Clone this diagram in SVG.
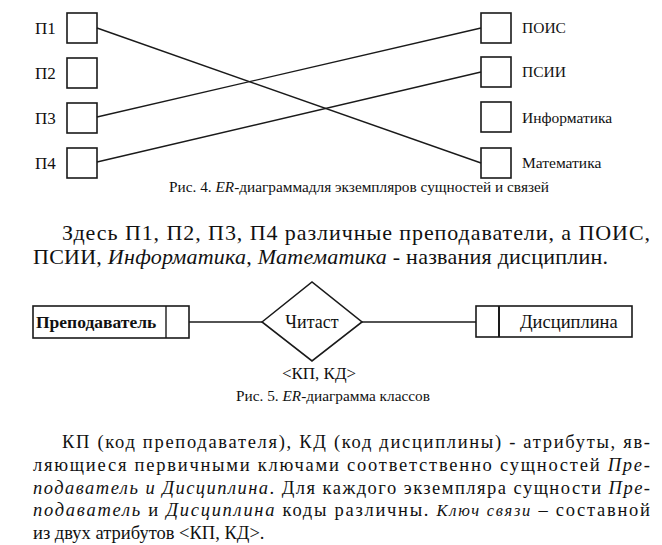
<svg xmlns="http://www.w3.org/2000/svg" width="662" height="545" viewBox="0 0 662 545">
<style>
  .bg{fill:#fff}
  .box{fill:#fff;stroke:#1a1a1a;stroke-width:1.6}
  .ln{fill:none;stroke:#1a1a1a;stroke-width:1.4}
  .t{font-family:"Liberation Serif","Times New Roman",serif;fill:#111}
  .lbl{font-size:17px}
  .rl{font-size:15.5px}
  .cap{font-size:15.3px}
  .p1{font-size:22px}
  .body{font-size:18.5px}
  .i{font-style:italic}
  .b{font-weight:bold}
</style>
<rect class="bg" x="0" y="0" width="662" height="545"/>

<!-- Figure 4 nodes -->
<g id="p1"><rect class="box" x="67" y="13" width="30" height="30"/><text class="t lbl" x="35" y="34">П1</text></g>
<g id="p2"><rect class="box" x="67" y="58" width="30" height="30"/><text class="t lbl" x="35" y="79">П2</text></g>
<g id="p3"><rect class="box" x="67" y="103" width="30" height="30"/><text class="t lbl" x="35" y="124">П3</text></g>
<g id="p4"><rect class="box" x="67" y="148" width="30" height="30"/><text class="t lbl" x="35" y="169">П4</text></g>

<g id="pois"><rect class="box" x="481" y="13" width="30" height="30"/><text class="t rl" x="522" y="33">ПОИС</text></g>
<g id="psii"><rect class="box" x="481" y="57" width="30" height="30"/><text class="t rl" x="522" y="77">ПСИИ</text></g>
<g id="inf"><rect class="box" x="481" y="102" width="30" height="30"/><text class="t rl" x="522" y="123">Информатика</text></g>
<g id="mat"><rect class="box" x="481" y="148" width="30" height="30"/><text class="t rl" x="522" y="168">Математика</text></g>

<g id="connectors-fig4">
  <line class="ln" x1="97" y1="28" x2="481" y2="163"/>
  <line class="ln" x1="97" y1="117" x2="481" y2="28"/>
  <line class="ln" x1="97" y1="162" x2="481" y2="72"/>
</g>

<text class="t cap" x="359" y="192" text-anchor="middle">Рис. 4. <tspan class="i">ER</tspan>-диаграммадля экземпляров сущностей и связей</text>

<text class="t p1" x="62" y="240" textLength="588" lengthAdjust="spacing">Здесь П1, П2, П3, П4 различные преподаватели, а ПОИС,</text>
<text class="t p1" x="33" y="264" textLength="575" lengthAdjust="spacing">ПСИИ, <tspan class="i">Информатика</tspan>, <tspan class="i">Математика</tspan> - названия дисциплин.</text>

<!-- Figure 5 nodes -->
<g id="teacher">
  <rect class="box" x="33" y="306" width="156" height="32"/>
  <line class="ln" x1="166" y1="306" x2="166" y2="338"/>
  <text class="t b" font-size="17.5" x="36" y="328">Преподаватель</text>
</g>
<g id="reads">
  <polygon class="box" points="262,322 312,282 362,322 312,361"/>
  <text class="t" font-size="18" x="312" y="328" text-anchor="middle">Читаст</text>
</g>
<g id="discipline">
  <rect class="box" x="476" y="306" width="156" height="31"/>
  <line class="ln" x1="499" y1="306" x2="499" y2="337" style="stroke-width:2"/>
  <text class="t" font-size="18.5" x="520" y="328">Дисциплина</text>
</g>
<g id="connectors-fig5">
  <line class="ln" x1="189" y1="322" x2="262" y2="322"/>
  <line class="ln" x1="362" y1="322" x2="476" y2="322"/>
</g>
<text class="t" font-size="17" x="319" y="379" text-anchor="middle">&lt;КП, КД&gt;</text>
<text class="t cap" x="333" y="401" text-anchor="middle">Рис. 5. <tspan class="i">ER</tspan>-диаграмма классов</text>

<text class="t body" x="62" y="448" textLength="588" lengthAdjust="spacing">КП (код преподавателя), КД (код дисциплины) - атрибуты, яв-</text>
<text class="t body" x="33" y="471" textLength="617" lengthAdjust="spacing">ляющиеся первичными ключами соответственно сущностей <tspan class="i">Пре-</tspan></text>
<text class="t body" x="33" y="494" textLength="617" lengthAdjust="spacing"><tspan class="i">подаватель и Дисциплина</tspan>. Для каждого экземпляра сущности <tspan class="i">Пре-</tspan></text>
<text class="t body" x="33" y="516" textLength="617" lengthAdjust="spacing"><tspan class="i">подаватель</tspan> и <tspan class="i">Дисциплина</tspan> коды различны. <tspan class="i" font-size="16.5">Ключ связи</tspan> – составной</text>
<text class="t body" x="33" y="539">из двух атрибутов &lt;КП, КД&gt;.</text>
</svg>
